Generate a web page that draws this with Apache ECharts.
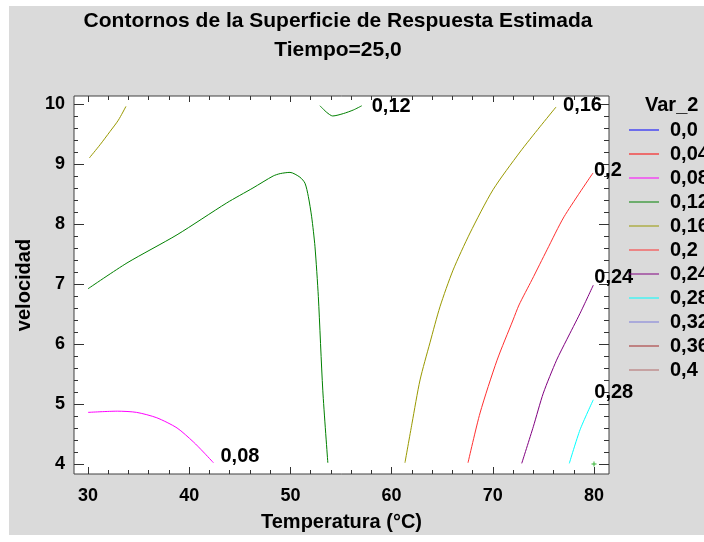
<!DOCTYPE html>
<html>
<head>
<meta charset="utf-8">
<script src="https://cdn.jsdelivr.net/npm/echarts@6/dist/echarts.min.js"></script>
<style>
  html, body { margin: 0; padding: 0; background: #ffffff; }
  #bg { position: absolute; left: 9px; top: 6px; width: 695px; height: 529px; background: #dadada; }
  #chart { position: absolute; left: 0; top: 0; width: 704px; height: 542px; }
</style>
</head>
<body>
<div id="bg"></div>
<div id="chart"></div>
<script>
// ---- data ----
const titleText = 'Contornos de la Superficie de Respuesta Estimada';
const subTitleText = 'Tiempo=25,0';
const xName = 'Temperatura (°C)';
const yName = 'velocidad';
const legendTitle = 'Var_2';
const levels = ['0,0', '0,04', '0,08', '0,12', '0,16', '0,2', '0,24', '0,28', '0,32', '0,36', '0,4'];
const levelColors = ['#0000ff', '#ff0000', '#ff00ff', '#008000', '#999900', '#ff3030', '#800080', '#00ffff', '#7b7bdb', '#a52a2a', '#b36b6b'];

const xMajor = [30, 40, 50, 60, 70, 80];
const xMinor = [32, 34, 36, 38, 42, 44, 46, 48, 52, 54, 56, 58, 62, 64, 66, 68, 72, 74, 76, 78];
const yMajor = [4, 5, 6, 7, 8, 9, 10];
const yMinor = [4.2, 4.4, 4.6, 4.8, 5.2, 5.4, 5.6, 5.8, 6.2, 6.4, 6.6, 6.8, 7.2, 7.4, 7.6, 7.8,
                8.2, 8.4, 8.6, 8.8, 9.2, 9.4, 9.6, 9.8];

// contour lines (Temperatura, velocidad)
const c008 = [[30.0, 4.86], [32.9, 4.88], [34.8, 4.86], [36.8, 4.77], [38.8, 4.6], [40.4, 4.37], [41.4, 4.2], [42.4, 4.02]];
const c012main = [[30.0, 6.92], [33.85, 7.35], [38.8, 7.82], [43.7, 8.35], [46.3, 8.6], [48.3, 8.8], [49.0, 8.84],
                  [49.96, 8.86], [50.94, 8.78], [51.44, 8.68], [51.77, 8.46], [52.1, 8.12], [52.43, 7.62],
                  [52.76, 6.79], [53.2, 5.23], [53.7, 4.02]];
const c012top = [[52.92, 9.97], [53.59, 9.86], [54.18, 9.8], [55.23, 9.84], [56.22, 9.9], [57.05, 9.97]];
const c016left = [[30.13, 9.1], [31.19, 9.32], [32.17, 9.54], [33.0, 9.73], [33.75, 9.96]];
const c016 = [[61.32, 4.02], [62.02, 4.68], [62.81, 5.4], [63.79, 6.02], [64.78, 6.62], [66.07, 7.23],
              [67.75, 7.85], [70.02, 8.57], [72.69, 9.2], [74.66, 9.62], [76.25, 9.95]];
const c020 = [[67.55, 4.02], [68.74, 4.85], [70.42, 5.73], [72.0, 6.4], [72.59, 6.65], [73.87, 7.07],
              [75.36, 7.57], [77.04, 8.12], [79.9, 8.85]];
const c024 = [[72.86, 4.01], [74.0, 4.62], [74.99, 5.18], [76.3, 5.73], [77.3, 6.07], [78.62, 6.51], [79.93, 6.98]];
const c028 = [[77.56, 4.01], [78.62, 4.57], [79.93, 5.07]];
const designPoint = [[80, 4]];

// ---- chart ----
const chart = echarts.init(document.getElementById('chart'));
const font = 'Liberation Sans, Arial, sans-serif';
const tickColor = '#333333';

function colorOf(name) { return levelColors[levels.indexOf(name)]; }

function contour(name, data, labelOffset) {
  const c = colorOf(name);
  const s = {
    type: 'line', name: name, data: data, symbol: 'none', smooth: 0.25,
    color: c, lineStyle: { color: c, width: 1 }, animation: false, silent: true,
    xAxisIndex: 0, yAxisIndex: 0
  };
  if (labelOffset) {
    s.endLabel = {
      show: true, formatter: name, color: '#000', fontFamily: font, fontWeight: 'bold', fontSize: 20,
      distance: 0, offset: labelOffset
    };
  }
  return s;
}

const series = [];
// empty level series so the legend lists every level
levels.forEach(function (n) {
  series.push(contour(n, []));
});
series.push(contour('0,08', c008, [7, -6]));
series.push(contour('0,12', c012main));
series.push(contour('0,12', c012top, [10, 1]));
series.push(contour('0,16', c016left));
series.push(contour('0,16', c016, [7, -1]));
series.push(contour('0,2', c020, [1, -2]));
series.push(contour('0,24', c024, [1, -8]));
series.push(contour('0,28', c028, [1, -7]));
series.push({
  type: 'scatter', name: 'punto', data: designPoint, symbol: 'path://M2,0H3V2H5V3H3V5H2V3H0V2H2Z',
  symbolSize: 5, itemStyle: { color: '#00a000' }, silent: true, animation: false
});

function axisBase(extra) {
  return Object.assign({
    type: 'value', gridIndex: 0, splitLine: { show: false }, axisLine: { show: false },
    axisLabel: { show: false }
  }, extra);
}

const X_MIN = 28.617, X_MAX = 81.482, Y_MIN = 3.833, Y_MAX = 10.133;

chart.setOption({
  animation: false,
  title: [
    {
      text: titleText + '\n' + subTitleText, left: 338, top: 7, padding: 0, textAlign: 'center',
      textStyle: { fontFamily: font, fontWeight: 'bold', fontSize: 21, color: '#000', lineHeight: 29 }
    },
    {
      text: legendTitle, left: 645, top: 95, padding: 0,
      textStyle: { fontFamily: font, fontWeight: 'bold', fontSize: 20, color: '#000' }
    }
  ],
  legend: {
    orient: 'vertical', left: 629, top: 120, padding: 0, itemWidth: 30, itemHeight: 1, itemGap: 4,
    icon: 'rect', selectedMode: false, data: levels,
    textStyle: { fontFamily: font, fontWeight: 'bold', fontSize: 20, color: '#000', lineHeight: 20, padding: [0, 0, 0, 6] }
  },
  grid: {
    left: 74, top: 96, right: 95, bottom: 68, show: true, backgroundColor: '#ffffff',
    borderColor: '#404040', borderWidth: 1
  },
  xAxis: [
    axisBase({
      position: 'bottom', min: X_MIN, max: X_MAX,
      axisTick: { show: true, inside: true, length: 7, customValues: xMajor, lineStyle: { color: tickColor } },
      axisLabel: { show: true, customValues: xMajor, margin: 13, color: '#000', fontFamily: font, fontWeight: 'bold', fontSize: 18 },
      name: xName, nameLocation: 'middle', nameGap: 38,
      nameTextStyle: { fontFamily: font, fontWeight: 'bold', fontSize: 20, color: '#000' }
    }),
    axisBase({
      position: 'bottom', min: X_MIN, max: X_MAX,
      axisTick: { show: true, inside: true, length: 4, customValues: xMinor, lineStyle: { color: tickColor } }
    }),
    axisBase({
      position: 'top', min: X_MIN, max: X_MAX,
      axisTick: { show: true, inside: true, length: 6, customValues: xMajor, lineStyle: { color: tickColor } }
    }),
    axisBase({
      position: 'top', min: X_MIN, max: X_MAX,
      axisTick: { show: true, inside: true, length: 4, customValues: xMinor, lineStyle: { color: tickColor } }
    })
  ],
  yAxis: [
    axisBase({
      position: 'left', min: Y_MIN, max: Y_MAX,
      axisTick: { show: true, inside: true, length: 10, customValues: yMajor, lineStyle: { color: tickColor } },
      axisLabel: { show: true, customValues: yMajor, margin: 9, color: '#000', fontFamily: font, fontWeight: 'bold', fontSize: 18 },
      name: yName, nameLocation: 'middle', nameGap: 40,
      nameTextStyle: { fontFamily: font, fontWeight: 'bold', fontSize: 20, color: '#000' }
    }),
    axisBase({
      position: 'left', min: Y_MIN, max: Y_MAX,
      axisTick: { show: true, inside: true, length: 4, customValues: yMinor, lineStyle: { color: tickColor } }
    }),
    axisBase({
      position: 'right', min: Y_MIN, max: Y_MAX,
      axisTick: { show: true, inside: true, length: 10, customValues: yMajor, lineStyle: { color: tickColor } }
    }),
    axisBase({
      position: 'right', min: Y_MIN, max: Y_MAX,
      axisTick: { show: true, inside: true, length: 5, customValues: yMinor, lineStyle: { color: tickColor } }
    })
  ],
  series: series
});
</script>
</body>
</html>
